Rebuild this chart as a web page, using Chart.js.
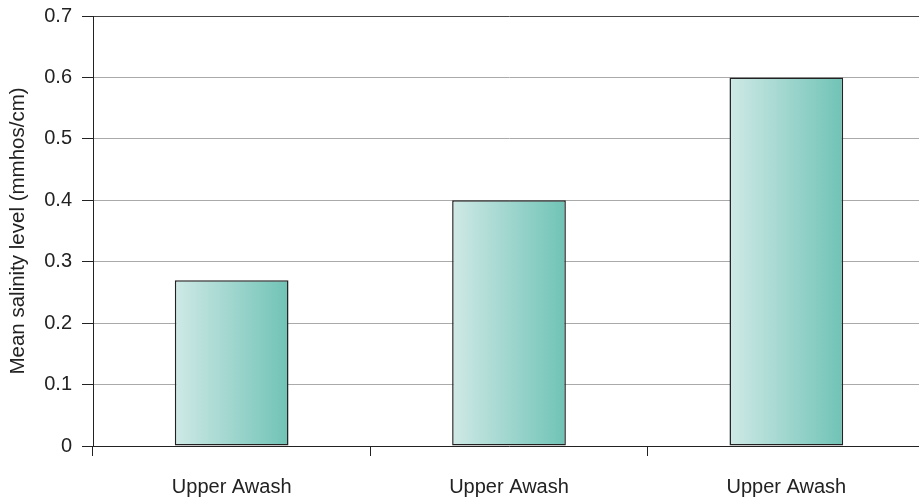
<!DOCTYPE html>
<html>
<head>
<meta charset="utf-8">
<script src="https://cdn.jsdelivr.net/npm/chart.js@4/dist/chart.umd.min.js"></script>
<style>
  html, body { margin: 0; padding: 0; background: #fff; overflow: hidden; }
  #wrap { width: 925px; height: 497px; }
</style>
</head>
<body>
<div id="wrap"><canvas id="myChart"></canvas></div>
<script>
const categories = ["Upper Awash", "Upper Awash", "Upper Awash"];
const salinity = [0.27, 0.40, 0.60];
const yTicks = [0, 0.1, 0.2, 0.3, 0.4, 0.5, 0.6, 0.7];

const barPct = 0.41;

// horizontal gradient for each bar, light on the left, teal on the right
function barGradient(c) {
  const chart = c.chart;
  const area = chart.chartArea;
  if (!area) return "#a3d8cf";
  const x = chart.scales.x.getPixelForValue(c.dataIndex);
  const w = (area.right - area.left) / categories.length * barPct;
  const g = chart.ctx.createLinearGradient(x - w / 2, 0, x + w / 2, 0);
  g.addColorStop(0, "#cfe9e6");
  g.addColorStop(1, "#70c3b6");
  return g;
}

new Chart(document.getElementById("myChart"), {
  type: "bar",
  data: {
    labels: categories,
    datasets: [{
      data: salinity,
      backgroundColor: barGradient,
      borderColor: "#222",
      borderWidth: 1.5,
      borderSkipped: false,
      barPercentage: barPct,
      categoryPercentage: 1
    }]
  },
  options: {
    responsive: true,
    maintainAspectRatio: false,
    animation: false,
    layout: { padding: { top: 16, right: 0, bottom: 0, left: 0 } },
    plugins: { legend: { display: false }, tooltip: { enabled: false } },
    scales: {
      x: {
        offset: true,
        afterFit: (s) => { s.height = 51; },
        grid: {
          offset: true,
          drawOnChartArea: false,
          tickLength: 10,
          tickColor: "#222"
        },
        border: { color: "#222", width: 1 },
        ticks: { color: "#222", padding: 19, font: { family: "Liberation Sans", size: 20 } }
      },
      y: {
        min: 0,
        max: 0.7,
        afterFit: (s) => { s.width = 93; s.paddingTop = 0; s.paddingBottom = 0; },
        afterBuildTicks: (s) => { s.ticks = yTicks.map((v) => ({ value: v })); },
        grid: {
          color: (c) => c.tick && c.tick.value === 0.7 ? "#444" : "#aaa",
          tickColor: "#222",
          tickLength: 11
        },
        border: { color: "#222", width: 1 },
        ticks: {
          color: "#222",
          padding: 10,
          font: { family: "Liberation Sans", size: 20 },
          callback: (v) => String(v)
        },
        title: {
          display: true,
          text: "Mean salinity level (mmhos/cm)",
          color: "#222",
          padding: { top: 6, bottom: 0 },
          font: { family: "Liberation Sans", size: 20.5 }
        }
      }
    }
  }
});
</script>
</body>
</html>
